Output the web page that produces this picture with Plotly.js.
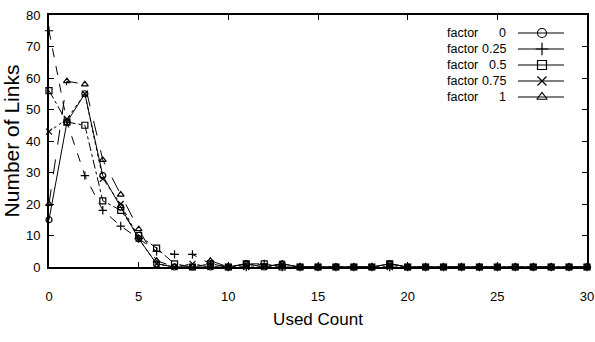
<!DOCTYPE html>
<html>
<head>
<meta charset="utf-8">
<script src="https://cdn.plot.ly/plotly-3.0.1.min.js"></script>
<style>html,body{margin:0;padding:0;background:#fff;}#chart{width:595px;height:342px;}</style>
</head>
<body>
<div id="chart"></div>
<script>
const usedCount = [0,1,2,3,4,5,6,7,8,9,10,11,12,13,14,15,16,17,18,19,20,21,22,23,24,25,26,27,28,29,30];
const factor0   = [15,46,55,29,19,9,1,0,0,0,0,1,0,1,0,0,0,0,0,1,0,0,0,0,0,0,0,0,0,0,0];
const factor025 = [75,46,29,18,13,9,5,4,4,1,0,0,1,0,0,0,0,0,0,0,0,0,0,0,0,0,0,0,0,0,0];
const factor05  = [56,46,45,21,18,10,6,1,0,1,0,1,1,0,0,0,0,0,0,1,0,0,0,0,0,0,0,0,0,0,0];
const factor075 = [43,47,55,28,20,9,1,0,1,0,0,0,0,1,0,0,0,0,0,0,0,0,0,0,0,0,0,0,0,0,0];
const factor1   = [20,59,58,34,23,12,2,0,0,2,0,1,0,1,0,0,0,0,0,1,0,0,0,0,0,0,0,0,0,0,0];
const seriesNames = ['0','0.25','0.5','0.75','1'];
const seriesValues = [factor0, factor025, factor05, factor075, factor1];
const symbols = ['circle-open','cross-thin-open','square-open','x-thin-open','triangle-up-open'];
const dashes = ['solid','dash','dashdot','dot','longdash'];

const FONT = 'Liberation Sans, Arial, sans-serif';
const traces = [];
seriesValues.forEach((vals, i) => {
  traces.push({
    x: usedCount, y: vals, type: 'scatter', mode: 'lines+markers',
    name: 'factor ' + seriesNames[i], showlegend: false, cliponaxis: false,
    line: {color: '#000', width: 1, dash: dashes[i]},
    marker: {symbol: symbols[i], size: 6, color: '#000', line: {color: '#000', width: 1.2}}
  });
});

// custom gnuplot-style key: text on left, sample on right
const keyTop = 33, keyStep = 16;  // pixel rows
const plotTop = 15, plotH = 252, plotL = 49, plotW = 538;
const annotations = [];
seriesNames.forEach((nm, i) => {
  const py = keyTop + keyStep * i;
  const fy = (plotTop + plotH - py) / plotH;
  annotations.push({xref:'paper', yref:'paper', x:(445-plotL)/plotW, y:fy, xanchor:'left', yanchor:'middle',
    text:'factor', showarrow:false, font:{family:FONT, size:12.5, color:'#000'}});
  annotations.push({xref:'paper', yref:'paper', x:(508-plotL)/plotW, y:fy, xanchor:'right', yanchor:'middle',
    text:nm, showarrow:false, font:{family:FONT, size:12.5, color:'#000'}});
  traces.push({
    x:[(518-plotL)/plotW, (542-plotL)/plotW, (564-plotL)/plotW], y:[fy, fy, fy],
    xaxis:'x2', yaxis:'y2', type:'scatter', mode:'lines', showlegend:false, hoverinfo:'skip',
    line:{color:'#000', width:1}
  });
  traces.push({
    x:[(542-plotL)/plotW], y:[fy],
    xaxis:'x2', yaxis:'y2', type:'scatter', mode:'markers', showlegend:false, hoverinfo:'skip',
    marker:{symbol:symbols[i], size:9, color:'#000', line:{color:'#000', width:1.2}}
  });
});

const layout = {
  width: 595, height: 342,
  margin: {l: 49, r: 8, t: 15, b: 75},
  paper_bgcolor: '#fff', plot_bgcolor: '#fff',
  font: {family: FONT, color: '#000', size: 13},
  showlegend: false,
  xaxis: {
    range: [0, 30], dtick: 5, tick0: 0, showgrid: false, zeroline: false,
    showline: true, linecolor: '#000', linewidth: 2, mirror: 'ticks',
    ticks: 'inside', ticklen: 5, tickcolor: '#000', ticklabelstandoff: 16,
    tickfont: {family: FONT, size: 13},
    title: {text: 'Used Count', font: {family: FONT, size: 17}, standoff: 11}
  },
  yaxis: {
    range: [0, 80], dtick: 10, tick0: 0, showgrid: false, zeroline: false,
    showline: true, linecolor: '#000', linewidth: 2, mirror: 'ticks',
    ticks: 'inside', ticklen: 5, tickcolor: '#000', ticklabelstandoff: 4,
    tickfont: {family: FONT, size: 13},
    title: {text: 'Number of Links', font: {family: FONT, size: 21}, standoff: 4}
  },
  xaxis2: {overlaying: 'x', range: [0, 1], visible: false},
  yaxis2: {overlaying: 'y', range: [0, 1], visible: false},
  annotations: annotations
};

Plotly.newPlot('chart', traces, layout, {staticPlot: true, displayModeBar: false});
</script>
</body>
</html>
